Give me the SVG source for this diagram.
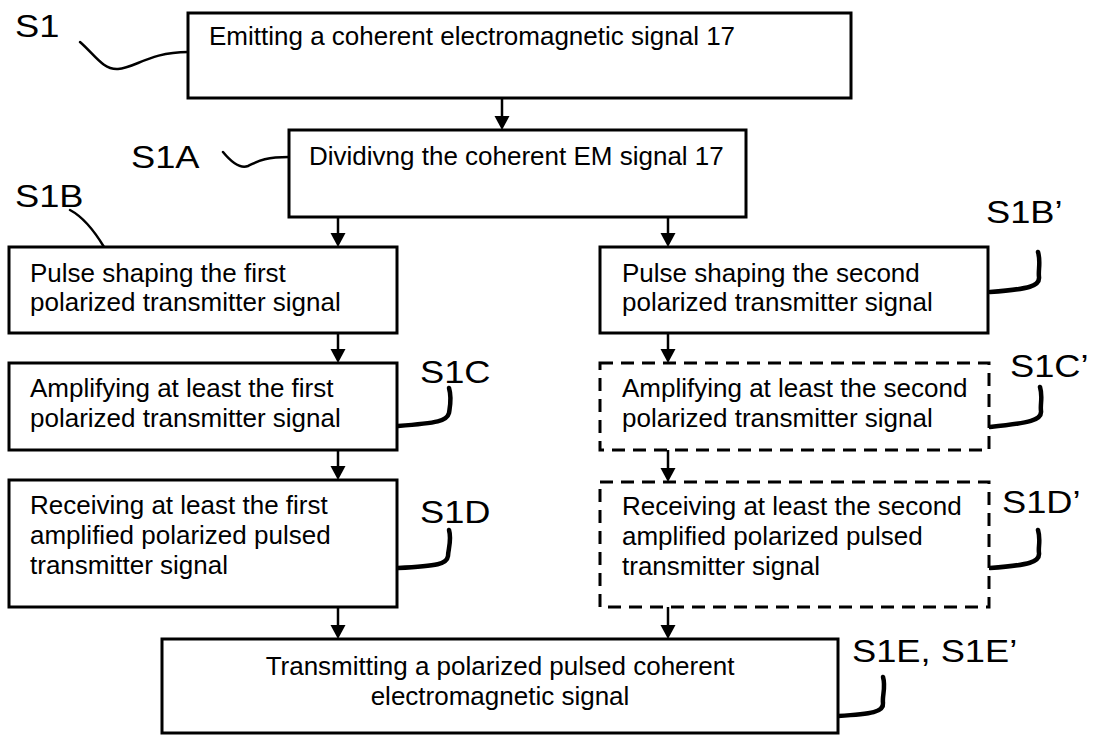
<svg xmlns="http://www.w3.org/2000/svg" width="1093" height="736" viewBox="0 0 1093 736">
<style>
.box{fill:#fff;stroke:#000;stroke-width:3}
.dash{fill:#fff;stroke:#000;stroke-width:3;stroke-dasharray:13 8}
.t{font-family:"Liberation Sans",Arial,sans-serif;font-size:26px;fill:#000}
.lbl{font-family:"Liberation Sans",Arial,sans-serif;font-size:31px;fill:#000}
.lead{fill:none;stroke:#000;stroke-width:2.5;stroke-linecap:round}
.leadb{fill:none;stroke:#000;stroke-width:4.5;stroke-linecap:round}
.arr{stroke:#000;stroke-width:2.5;fill:none}
.head{fill:#000}
</style>
<rect width="1093" height="736" fill="#fff"/>
<g id="connectors">
<line class="arr" x1="502" y1="98" x2="502" y2="116"/><path class="head" d="M494.5,116 L509.5,116 L502,130 Z"/>
<line class="arr" x1="338" y1="217" x2="338" y2="233"/><path class="head" d="M330.5,233 L345.5,233 L338,247 Z"/>
<line class="arr" x1="668" y1="217" x2="668" y2="233"/><path class="head" d="M660.5,233 L675.5,233 L668,247 Z"/>
<line class="arr" x1="338" y1="333" x2="338" y2="349"/><path class="head" d="M330.5,349 L345.5,349 L338,363 Z"/>
<line class="arr" x1="668" y1="333" x2="668" y2="349"/><path class="head" d="M660.5,349 L675.5,349 L668,363 Z"/>
<line class="arr" x1="338" y1="450" x2="338" y2="466"/><path class="head" d="M330.5,466 L345.5,466 L338,480 Z"/>
<line class="arr" x1="668" y1="450" x2="668" y2="468"/><path class="head" d="M660.5,468 L675.5,468 L668,482 Z"/>
<line class="arr" x1="338" y1="607" x2="338" y2="625"/><path class="head" d="M330.5,625 L345.5,625 L338,639 Z"/>
<line class="arr" x1="668" y1="607" x2="668" y2="625"/><path class="head" d="M660.5,625 L675.5,625 L668,639 Z"/>
</g>
<g id="leaders">
<path class="lead" d="M80,42 C95,55 103,70 118,69 C135,68 150,52 188,52"/>
<path class="lead" d="M223,152 C232,163 240,169 248,166 C257,162 263,157 289,157"/>
<path class="lead" d="M70,210 C85,218 95,232 104,247"/>
<path class="leadb" d="M449,388 C452,398 450,406 449,413 C447,421 438,423 398,426"/>
<path class="leadb" d="M449,530 C452,540 448,550 448,556 C447,564 438,566 398,568"/>
<path class="leadb" d="M1038,252 C1041,262 1038,270 1039,277 C1040,286 1030,289 990,292"/>
<path class="leadb" d="M1040,387 C1043,397 1040,404 1041,411 C1042,420 1030,423 990,427"/>
<path class="leadb" d="M1038,530 C1041,540 1038,547 1039,553 C1040,562 1030,565 990,568"/>
<path class="leadb" d="M883,677 C886,687 882,696 883,703 C884,712 872,714 838,716"/>
</g>
<g id="S1"><rect class="box" x="188" y="13" width="663" height="85"/><text class="t" x="209" y="45">Emitting a coherent electromagnetic signal 17</text></g>
<g id="S1A"><rect class="box" x="289" y="130" width="457" height="87"/><text class="t" x="309" y="165">Dividivng the coherent EM signal 17</text></g>
<g id="S1B"><rect class="box" x="9" y="247" width="388" height="86"/><text class="t" x="30" y="282">Pulse shaping the first</text><text class="t" x="30" y="311">polarized transmitter signal</text></g>
<g id="S1C"><rect class="box" x="9" y="363" width="388" height="87"/><text class="t" x="30" y="397">Amplifying at least the first</text><text class="t" x="30" y="427">polarized transmitter signal</text></g>
<g id="S1D"><rect class="box" x="9" y="480" width="388" height="127"/><text class="t" x="30" y="514">Receiving at least the first</text><text class="t" x="30" y="544">amplified polarized pulsed</text><text class="t" x="30" y="574">transmitter signal</text></g>
<g id="S1Bp"><rect class="box" x="600" y="247" width="388" height="86"/><text class="t" x="622" y="282">Pulse shaping the second</text><text class="t" x="622" y="311">polarized transmitter signal</text></g>
<g id="S1Cp"><rect class="dash" x="600" y="363" width="389" height="87"/><text class="t" x="622" y="397">Amplifying at least the second</text><text class="t" x="622" y="427">polarized transmitter signal</text></g>
<g id="S1Dp"><rect class="dash" x="600" y="482" width="389" height="125"/><text class="t" x="622" y="515">Receiving at least the second</text><text class="t" x="622" y="545">amplified polarized pulsed</text><text class="t" x="622" y="575">transmitter signal</text></g>
<g id="S1E"><rect class="box" x="162" y="639" width="676" height="94"/><text class="t" x="500" y="675" text-anchor="middle">Transmitting a polarized pulsed coherent</text><text class="t" x="500" y="705" text-anchor="middle">electromagnetic signal</text></g>
<g id="labels">
<text class="lbl" transform="translate(15,37) scale(1.17,1)">S1</text>
<text class="lbl" transform="translate(131,168) scale(1.17,1)">S1A</text>
<text class="lbl" transform="translate(15,207) scale(1.17,1)">S1B</text>
<text class="lbl" transform="translate(420,383) scale(1.17,1)">S1C</text>
<text class="lbl" transform="translate(420,523) scale(1.17,1)">S1D</text>
<text class="lbl" transform="translate(986,223) scale(1.17,1)">S1B’</text>
<text class="lbl" transform="translate(1010,377) scale(1.17,1)">S1C’</text>
<text class="lbl" transform="translate(1002,513) scale(1.17,1)">S1D’</text>
<text class="lbl" transform="translate(852,662) scale(1.17,1)">S1E, S1E’</text>
</g>
</svg>
